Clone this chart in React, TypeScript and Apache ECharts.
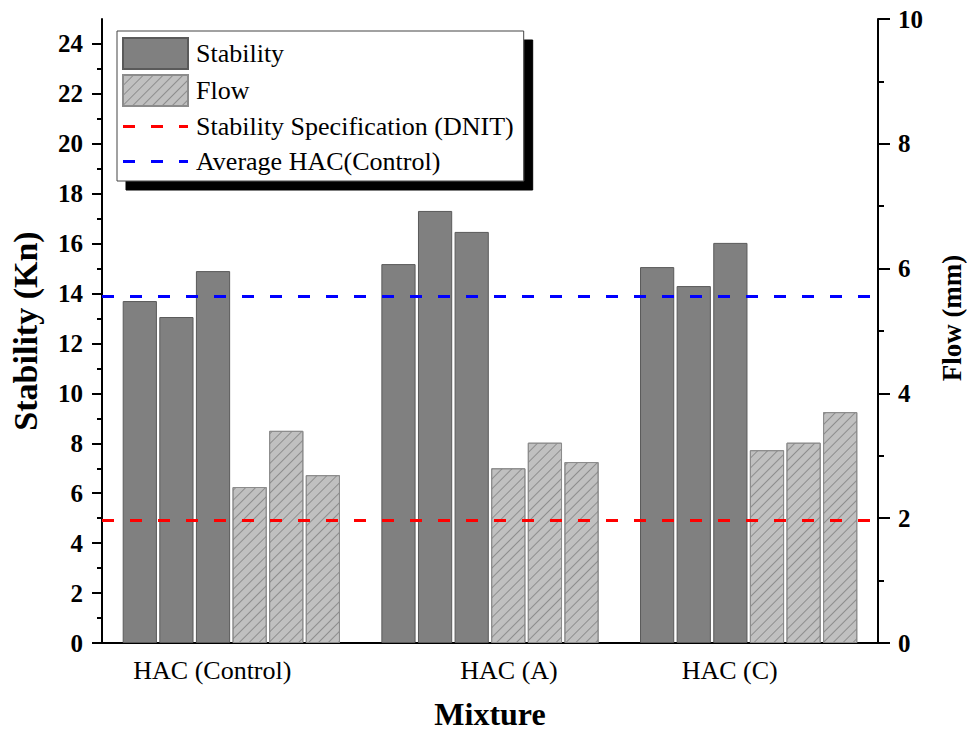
import React, { useEffect, useRef } from "react";
import * as echarts from "echarts";

const categories = ["HAC (Control)", "HAC (A)", "HAC (C)"];
const stabilityRuns = [
  [13.7, 15.18, 15.06],
  [13.06, 17.31, 14.3],
  [14.9, 16.47, 16.03],
];
const flowRuns = [
  [2.5, 2.8, 3.09],
  [3.4, 3.21, 3.21],
  [2.69, 2.9, 3.7],
];
const stabilitySpec = 4.9;
const averageControl = 13.9;
const leftMajorTicks = [0, 2, 4, 6, 8, 10, 12, 14, 16, 18, 20, 22, 24];
const leftMinorTicks = [1, 3, 5, 7, 9, 11, 13, 15, 17, 19, 21, 23];

const FONT = "'Liberation Serif', 'Times New Roman', serif";
const DASH_ICON = "path://M0,0M65,31M0,14h12v3h-12zM28,14h12v3h-12zM56,14h9v3h-9z";

export default function App() {
  const ref = useRef<HTMLDivElement>(null);
  useEffect(() => {
    if (!ref.current) return;
    const el = ref.current;
    const chart = echarts.init(el, undefined, { renderer: "svg" });
    const axisLine = { show: true, lineStyle: { color: "#000", width: 2 } };
    const hatch = {
      symbol: "rect",
      symbolSize: 1,
      color: "rgba(80,80,80,0.45)",
      dashArrayX: [1, 0],
      dashArrayY: [1, 6],
      rotation: -Math.PI / 4,
    };
    const series: any[] = [];
    stabilityRuns.forEach((d) =>
      series.push({
        type: "bar",
        name: "Stability",
        data: d,
        yAxisIndex: 0,
        barCategoryGap: "16%",
        barGap: "7%",
        itemStyle: { color: "#808080", borderColor: "#5a5a5a", borderWidth: 1 },
      })
    );
    flowRuns.forEach((d) =>
      series.push({
        type: "bar",
        name: "Flow",
        data: d,
        yAxisIndex: 1,
        barCategoryGap: "16%",
        barGap: "7%",
        itemStyle: { color: "#c0c0c0", borderColor: "#8c8c8c", borderWidth: 1, decal: hatch },
      })
    );
    const refLine = (name: string, value: number, color: string) => ({
      type: "line",
      name,
      data: [],
      yAxisIndex: 0,
      symbol: "none",
      lineStyle: { color, width: 3, type: [12, 16] },
      itemStyle: { color },
      markLine: {
        silent: true,
        symbol: "none",
        label: { show: false },
        lineStyle: { color, width: 3, type: [12, 16] },
        data: [{ yAxis: value }],
      },
    });
    series.push(refLine("Stability Specification (DNIT)", stabilitySpec, "#ff0000"));
    series.push(refLine("Average HAC(Control)", averageControl, "#0000ff"));

    chart.setOption({
      animation: false,
      backgroundColor: "#fff",
      textStyle: { fontFamily: FONT },
      grid: { left: 102, right: 89, top: 19, bottom: 90, containLabel: false, outerBoundsMode: "none" },
      legend: {
        orient: "vertical",
        left: 117,
        top: 31,
        padding: [6, 10, 4, 5],
        itemWidth: 65,
        itemHeight: 31,
        itemGap: 4,
        backgroundColor: "#fff",
        borderColor: "#444",
        borderWidth: 1,
        shadowColor: "#000",
        shadowBlur: 0,
        shadowOffsetX: 9,
        shadowOffsetY: 9,
        data: [
          { name: "Stability", icon: "rect" },
          { name: "Flow", icon: "rect" },
          { name: "Stability Specification (DNIT)", icon: DASH_ICON },
          { name: "Average HAC(Control)", icon: DASH_ICON },
        ],
        textStyle: { fontFamily: FONT, fontSize: 26, color: "#000", padding: [0, 0, 0, 3] },
      },
      xAxis: [
        {
          type: "category",
          data: categories,
          axisLine,
          axisTick: { show: false },
          name: "Mixture",
          nameLocation: "middle",
          nameGap: 56,
          nameTextStyle: { fontFamily: FONT, fontSize: 32, lineHeight: 30, fontWeight: "bold", color: "#000" },
          axisLabel: {
            interval: 0,
            hideOverlap: false,
            margin: 14,
            color: "#000",
            fontFamily: FONT,
            fontSize: 26,
            formatter: (v: string, i: number) => `{l${i}|${v}}`,
            rich: {
              l0: { fontFamily: FONT, fontSize: 26, padding: [0, 38, 0, 0] },
              l1: { fontFamily: FONT, fontSize: 26, padding: [0, 0, 0, 38] },
              l2: { fontFamily: FONT, fontSize: 26, padding: [0, 38, 0, 0] },
            },
          },
        },
        {
          type: "value",
          position: "top",
          axisLine,
          axisTick: { show: false },
          axisLabel: { show: false },
          splitLine: { show: false },
        },
      ],
      yAxis: [
        {
          type: "value",
          position: "left",
          min: 0,
          max: 25,
          axisLine,
          splitLine: { show: false },
          axisTick: { show: true, length: 10, lineStyle: { width: 2, color: "#000" }, customValues: leftMajorTicks },
          axisLabel: {
            customValues: leftMajorTicks,
            margin: 19,
            color: "#000",
            fontFamily: FONT,
            fontSize: 25,
            fontWeight: "bold",
          },
          name: "Stability (Kn)",
          nameLocation: "middle",
          nameGap: 60,
          nameTextStyle: { fontFamily: FONT, fontSize: 34, fontWeight: "bold", color: "#000" },
        },
        {
          type: "value",
          position: "right",
          min: 0,
          max: 10,
          interval: 2,
          axisLine,
          splitLine: { show: false },
          axisTick: { show: true, length: 12, lineStyle: { width: 2, color: "#000" } },
          minorTick: { show: true, splitNumber: 2, length: 6, lineStyle: { width: 2, color: "#000" } },
          axisLabel: { margin: 20, color: "#000", fontFamily: FONT, fontSize: 25, fontWeight: "bold" },
          name: "Flow (mm)",
          nameLocation: "middle",
          nameRotate: 90,
          nameGap: 60,
          nameTextStyle: {
            fontFamily: FONT,
            fontSize: 27,
            fontWeight: "bold",
            color: "#000",
            padding: [0, 0, 0, 26],
          },
        },
        {
          type: "value",
          position: "left",
          min: 0,
          max: 25,
          axisLine: { show: false },
          splitLine: { show: false },
          axisLabel: { show: false },
          axisTick: { show: true, length: 5, lineStyle: { width: 2, color: "#000" }, customValues: leftMinorTicks },
        },
      ],
      series,
    });
    return () => chart.dispose();
  }, []);
  return <div ref={ref} style={{ position: "fixed", left: 0, top: 0, width: 967, height: 733 }} />;
}
